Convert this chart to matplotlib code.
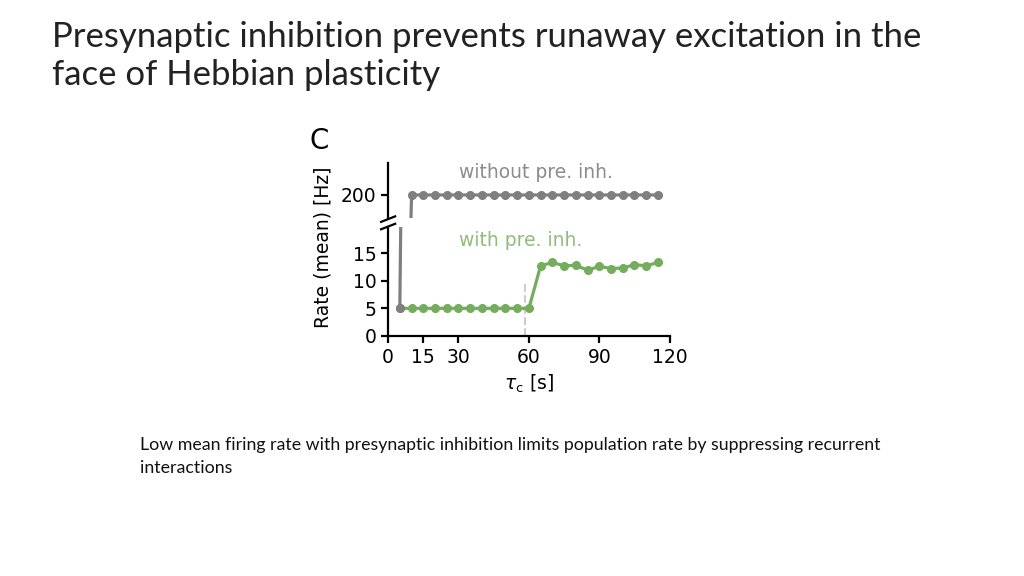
import matplotlib.pyplot as plt
import numpy as np

# data
tau_c = [5, 10, 15, 20, 25, 30, 35, 40, 45, 50, 55, 60,
         65, 70, 75, 80, 85, 90, 95, 100, 105, 110, 115]
rate_with = [5, 5, 5, 5, 5, 5, 5, 5, 5, 5, 5, 5,
             12.7, 13.3, 12.7, 12.8, 11.9, 12.6, 12.2, 12.3, 12.9, 12.7, 13.3]
rate_without = [5] + [200] * 22
threshold_tau = 58.5
threshold_top = 10

xticks = [0, 15, 30, 60, 90, 120]
yticks_low = [0, 5, 10, 15]
yticks_high = [200]

title_lines = ["Presynaptic inhibition prevents runaway excitation in the",
               "face of Hebbian plasticity"]
caption_lines = ["Low mean firing rate with presynaptic inhibition limits population rate by suppressing recurrent",
                 "interactions"]

gray = "#7f7f7f"
green = "#74ad5c"

fig = plt.figure(figsize=(10.24, 5.76), dpi=100)
for line, y in zip(title_lines, [0.918, 0.852]):
    fig.text(0.051, y, line, fontsize=25, family="Lato",
             color="#222222", va="baseline", ha="left")
for line, y in zip(caption_lines, [0.2187, 0.179]):
    fig.text(0.137, y, line, fontsize=12.8, family="Lato",
             color="#111111", va="baseline", ha="left")

ax_lo = fig.add_axes([0.379, 0.4167, 0.275, 0.19])
ax_hi = fig.add_axes([0.379, 0.6215, 0.275, 0.096])

for ax in (ax_lo, ax_hi):
    ax.plot(tau_c, rate_with, "-o", color=green, lw=2.3, ms=5.5, zorder=3)
    ax.plot(tau_c, rate_without, "-o", color=gray, lw=2.3, ms=5.5, zorder=4)
    ax.spines["top"].set_visible(False)
    ax.spines["right"].set_visible(False)
    ax.spines["left"].set_linewidth(1.6)
    ax.spines["bottom"].set_linewidth(1.6)
    ax.tick_params(width=1.6, length=5, labelsize=13.5)
    ax.set_xlim(0, 120)

ax_lo.plot([threshold_tau, threshold_tau], [0, threshold_top], ls="--",
           color="#cccccc", lw=1.5, zorder=1)
ax_lo.set_ylim(0, 19.8)
ax_lo.set_yticks(yticks_low)
ax_lo.set_xticks(xticks)
ax_lo.set_xlabel(r"$\tau_\mathrm{c}$ [s]", fontsize=13.5, labelpad=4)

ax_hi.set_ylim(190, 214)
ax_hi.set_yticks(yticks_high)
ax_hi.spines["bottom"].set_visible(False)
ax_hi.set_xticks([])

# break marks on the left spine
d = 0.025
ax_hi.plot([-d, d], [-0.02 - 0.05, -0.02 + 0.05], transform=ax_hi.transAxes,
           color="k", lw=1.6, clip_on=False)
ax_lo.plot([-d, d], [1.0 - 0.025, 1.0 + 0.025], transform=ax_lo.transAxes,
           color="k", lw=1.6, clip_on=False)

ax_hi.text(0.525, 0.82, "without pre. inh.", transform=ax_hi.transAxes,
           ha="center", va="center", color="#8c8c8c", fontsize=13.5)
ax_lo.text(0.47, 0.87, "with pre. inh.", transform=ax_lo.transAxes,
           ha="center", va="center", color="#8fbd7a", fontsize=13.5)

fig.text(0.312, 0.756, "C", fontsize=20, ha="center", va="center")
fig.text(0.315, 0.57, "Rate (mean) [Hz]", rotation=90, fontsize=13.5,
         ha="center", va="center")

fig.savefig("out.png", dpi=100)
